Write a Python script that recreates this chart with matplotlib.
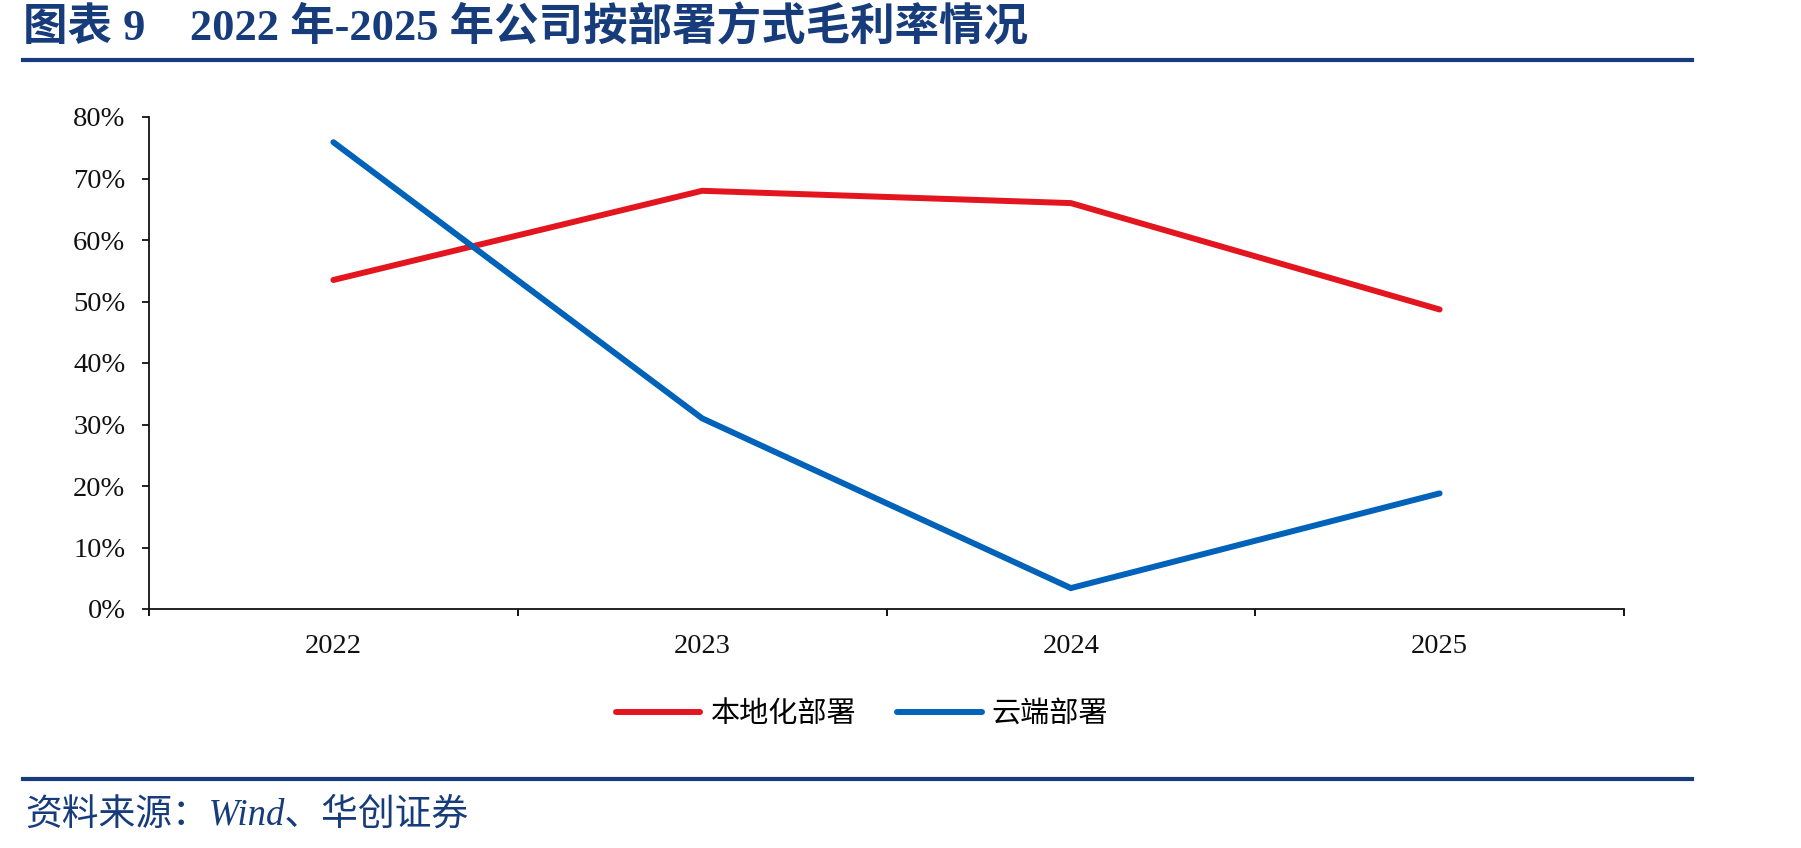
import matplotlib
matplotlib.use("Agg")
import matplotlib.pyplot as plt
from matplotlib.lines import Line2D
from matplotlib.ticker import FixedLocator, PercentFormatter

# ── data ─────────────────────────────────────────────────────────────────────
years = ["2022", "2023", "2024", "2025"]
local_margin = [53.5, 68.0, 66.0, 48.7]   # 本地化部署
cloud_margin = [75.9, 31.0, 3.4, 18.8]    # 云端部署
series_names = ["本地化部署", "云端部署"]
y_ticks = [0, 10, 20, 30, 40, 50, 60, 70, 80]

TITLE = "图表 9    2022 年-2025 年公司按部署方式毛利率情况"
SOURCE = "资料来源：Wind、华创证券"

RED = "#E3161F"
BLUE = "#0062B8"
NAVY = "#173C7C"

SERIF = ["Liberation Serif", "Noto Sans CJK SC"]
CJK = ["Noto Sans CJK SC", "Liberation Serif"]

W, H = 1801, 848
fig = plt.figure(figsize=(W / 100, H / 100), dpi=100)
fig.patch.set_facecolor("white")

# axes: x 149..1624 px, y 117..609 px
ax = fig.add_axes([149 / W, 1 - 609 / H, (1624 - 149) / W, (609 - 117) / H])

x = list(range(len(years)))
l1, = ax.plot(x, local_margin, color=RED, lw=4.3, solid_capstyle="round",
              solid_joinstyle="miter")
l2, = ax.plot(x, cloud_margin, color=BLUE, lw=4.3, solid_capstyle="round",
              solid_joinstyle="miter")

ax.set_xlim(-0.5, len(years) - 0.5)
ax.set_ylim(0, 80)

for side in ["top", "right"]:
    ax.spines[side].set_visible(False)
for side in ["left", "bottom"]:
    ax.spines[side].set_linewidth(1.3)
    ax.spines[side].set_color("#111111")

ax.yaxis.set_major_locator(FixedLocator(y_ticks))
ax.yaxis.set_major_formatter(PercentFormatter(decimals=0))
ax.tick_params(axis="y", direction="out", length=5, width=1.3, pad=12,
               labelsize=20.5, colors="#111111")

# category boundaries get ticks, category centres get labels
ax.set_xticks([i - 0.5 for i in range(len(years) + 1)])
ax.set_xticklabels([])
ax.set_xticks(x, minor=True)
ax.set_xticklabels(years, minor=True)
ax.tick_params(axis="x", which="major", direction="out", length=5, width=1.3)
ax.tick_params(axis="x", which="minor", length=0, pad=18, labelsize=20.5,
               colors="#111111")
for lab in ax.get_xticklabels(minor=True) + ax.get_yticklabels():
    lab.set_fontfamily(SERIF)

# legend
leg = fig.legend([l1, l2], series_names, loc="center",
                 bbox_to_anchor=(862 / W, 1 - 714 / H), ncol=2, frameon=False,
                 handlelength=2.9, handletextpad=0.35, columnspacing=1.4,
                 prop={"family": CJK, "size": 21})

# title, rules and source
fig.text(23 / W, 1 - 28 / H, TITLE, ha="left", va="center", fontsize=32,
         fontweight="bold", color=NAVY, family=SERIF)
fig.add_artist(Line2D([23 / W, 1692 / W], [1 - 60 / H] * 2, color=NAVY, lw=3))
fig.add_artist(Line2D([23 / W, 1692 / W], [1 - 779 / H] * 2, color=NAVY, lw=3))
fig.text(25 / W, 1 - 815 / H, SOURCE, ha="left", va="center", fontsize=26.5,
         style="italic", color=NAVY, family=SERIF)

fig.savefig("out.png", dpi=100, facecolor="white")
